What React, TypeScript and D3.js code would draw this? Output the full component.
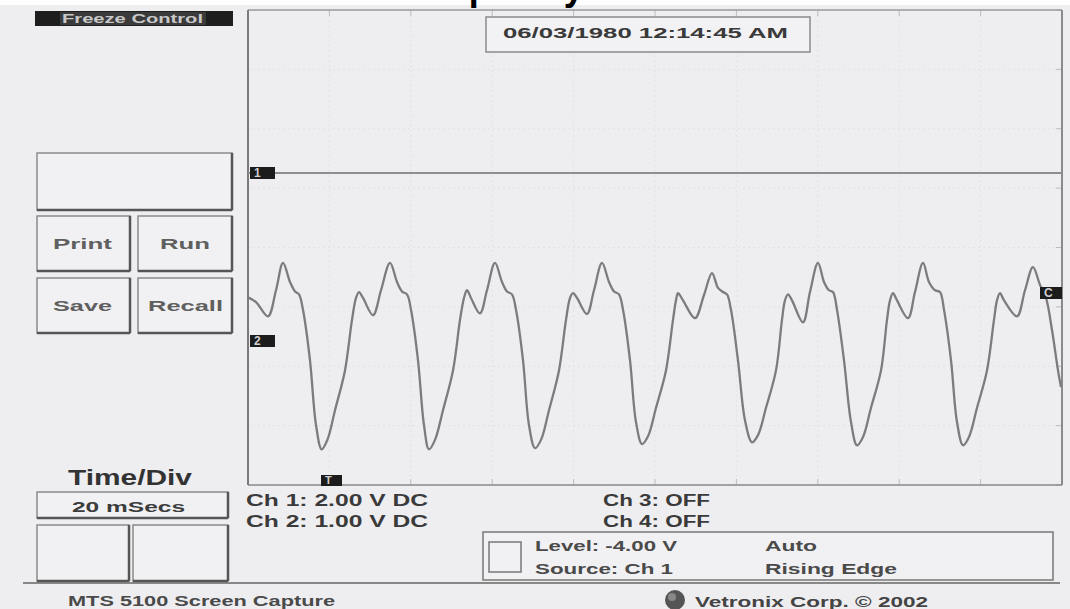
import React from "react";
import * as d3 from "d3";

// ---- Data ----
// Channel 2 trace: time in ms (20 ms/div, 10 divs), voltage in V (1 V/div)
const timeMs = [
  0, 1.97, 4.91, 6.88, 8.6,
  10.32, 11.55, 12.53, 13.51, 15.23, 16.71, 18.1, 19.5, 21.38, 23.83, 25.55, 26.54, 27.27, 28.26, 30.71, 32.68, 34.89,
  36.61, 37.84, 39.07, 40.05, 41.77, 43.24, 44.47, 45.95, 47.91, 50.37, 52.09, 53.07, 53.81, 54.79, 57.0, 58.72, 60.69,
  62.41, 63.64, 64.86, 65.85, 67.57, 69.04, 70.52, 71.99, 73.96, 76.41, 78.13, 79.12, 79.85, 80.84, 83.29, 85.01, 86.98,
  88.7, 89.93, 91.15, 92.14, 93.86, 95.33, 96.81, 98.28, 100.25, 102.7, 104.42, 105.16, 105.65, 106.88, 109.83, 112.04, 114.0,
  115.48, 116.71, 117.69, 118.67, 120.39, 122.11, 123.83, 125.31, 127.27, 129.73, 131.2, 131.94, 132.68, 133.66, 136.36, 138.08, 140.05,
  141.52, 142.75, 143.73, 144.72, 146.44, 148.16, 149.63, 151.11, 153.07, 155.53, 157.0, 157.74, 158.48, 159.46, 162.16, 163.88, 165.85,
  167.32, 168.8, 170.02, 171.01, 172.73, 174.2, 175.68, 177.15, 179.12, 181.57, 183.29, 184.03, 184.77, 185.75, 188.94, 190.91, 192.87,
  194.59, 196.07, 197.54, 199.02, 199.75,
];
const ch2Volts = [
  0.72, 0.64, 0.4, 0.84, 1.3,
  0.98, 0.82, 0.77, 0.51, -0.34, -1.43, -1.84, -1.68, -1.18, -0.51, 0.34, 0.71, 0.81, 0.71, 0.42, 0.84, 1.3,
  0.98, 0.82, 0.77, 0.51, -0.34, -1.43, -1.84, -1.68, -1.18, -0.51, 0.34, 0.71, 0.84, 0.71, 0.45, 0.84, 1.3,
  0.98, 0.82, 0.77, 0.51, -0.34, -1.43, -1.82, -1.68, -1.18, -0.51, 0.34, 0.71, 0.79, 0.71, 0.44, 0.84, 1.3,
  0.98, 0.82, 0.77, 0.51, -0.34, -1.38, -1.75, -1.62, -1.14, -0.51, 0.34, 0.67, 0.79, 0.67, 0.37, 0.76, 1.13,
  0.88, 0.81, 0.77, 0.51, -0.34, -1.35, -1.72, -1.6, -1.14, -0.51, 0.34, 0.67, 0.77, 0.67, 0.3, 0.81, 1.3,
  0.98, 0.84, 0.81, 0.51, -0.34, -1.38, -1.77, -1.63, -1.14, -0.51, 0.34, 0.67, 0.79, 0.67, 0.37, 0.81, 1.3,
  0.98, 0.84, 0.81, 0.51, -0.34, -1.38, -1.77, -1.63, -1.14, -0.51, 0.34, 0.67, 0.79, 0.67, 0.4, 0.84, 1.23,
  0.93, 0.71, 0.17, -0.51, -0.79,
];
// Channel 1 trace: flat at its ground reference
const ch1Time = [0, 200];
const ch1Volts = [0, 0];

const timeGrid = [0, 20, 40, 60, 80, 100, 120, 140, 160, 180, 200];
const divGrid = [0, 1, 2, 3, 4, 5, 6, 7, 8];

const ch1Label = "Ch 1: 2.00 V DC";
const ch2Label = "Ch 2: 1.00 V DC";
const ch3Label = "Ch 3: OFF";
const ch4Label = "Ch 4: OFF";
const timeDivLabel = "20 mSecs";
const dateLabel = "06/03/1980 12:14:45 AM";
const triggerLabels = ["Level: -4.00 V", "Source: Ch 1", "Auto", "Rising Edge"];
const buttonLabels = ["Print", "Run", "Save", "Recall"];

// ---- Layout ----
const W = 1070;
const H = 609;
const PL = 248, PR = 1062, PT = 10, PB = 485;
const CH1_VDIV = 2, CH2_VDIV = 1;
const CH1_GROUND_DIV = 5.255;
const CH2_GROUND_DIV = 2.44;

const FONT = "'Liberation Sans', Arial, sans-serif";

function T(props: { x: number; y: number; w?: number; size: number; fill?: string; anchor?: string; children: React.ReactNode; weight?: string }) {
  const { x, y, w, size, fill = "#3a3a3a", anchor = "start", children, weight = "bold" } = props;
  return (
    <text
      x={x}
      y={y}
      fontFamily={FONT}
      fontWeight={weight}
      fontSize={size}
      fill={fill}
      textAnchor={anchor}
      {...(w ? { textLength: w, lengthAdjust: "spacingAndGlyphs" } : {})}
    >
      {children}
    </text>
  );
}

function Box({ x, y, w, h }: { x: number; y: number; w: number; h: number }) {
  return (
    <g>
      <rect x={x} y={y} width={w} height={h} fill="#f1f1f3" stroke="#8a8a8a" strokeWidth={1.5} />
      <line x1={x + w} y1={y} x2={x + w} y2={y + h} stroke="#555" strokeWidth={2.5} />
      <line x1={x} y1={y + h} x2={x + w} y2={y + h} stroke="#555" strokeWidth={2.5} />
    </g>
  );
}

function Marker({ x, y, w, h, label }: { x: number; y: number; w: number; h: number; label: string }) {
  return (
    <g>
      <rect x={x} y={y} width={w} height={h} fill="#1c1c1c" />
      <text x={x + 4} y={y + h - 2} fontFamily={FONT} fontWeight="bold" fontSize={h} fill="#d0d0d0">
        {label}
      </text>
    </g>
  );
}

export default function App() {
  const x = d3.scaleLinear().domain([0, 200]).range([PL, PR]);
  const yDiv = d3.scaleLinear().domain([0, 8]).range([PB, PT]);
  const y1 = (v: number) => yDiv(CH1_GROUND_DIV + v / CH1_VDIV);
  const y2 = (v: number) => yDiv(CH2_GROUND_DIV + v / CH2_VDIV);

  const ch2Pts: [number, number][] = timeMs.map((t, i) => [t, ch2Volts[i]]);
  const ch1Pts: [number, number][] = ch1Time.map((t, i) => [t, ch1Volts[i]]);

  const line2 = d3
    .line<[number, number]>()
    .x((d) => x(d[0]))
    .y((d) => y2(d[1]))
    .curve(d3.curveCatmullRom.alpha(0.5));
  const line1 = d3
    .line<[number, number]>()
    .x((d) => x(d[0]))
    .y((d) => y1(d[1]));

  return (
    <svg
      width={W}
      height={H}
      viewBox={`0 0 ${W} ${H}`}
      style={{ position: "absolute", left: 0, top: 0, display: "block" }}
    >
      <rect x={0} y={0} width={W} height={H} fill="#ffffff" />
      <rect x={0} y={5} width={W} height={H - 5} fill="#eeeef1" />

      {/* cut-off title at the very top (only descenders visible, as in the reference) */}
      <text x={400} y={-0.5} fontFamily={FONT} fontWeight="bold" fontSize={40} fill="#000" textLength={184} lengthAdjust="spacingAndGlyphs">
        Frequency
      </text>

      {/* left panel */}
      <rect x={35} y={11} width={198} height={15} fill="#1e1e1e" />
      <rect x={60} y={12} width={146} height={13} fill="#3a3a3a" />
      <T x={62} y={23} w={141} size={12} fill="#c8c8c8">Freeze Control</T>

      <Box x={37} y={153} w={195} h={57} />
      <Box x={37} y={216} w={93} h={55} />
      <Box x={138} y={216} w={94} h={55} />
      <Box x={37} y={278} w={93} h={55} />
      <Box x={138} y={278} w={94} h={55} />
      <T x={53} y={249} w={59} size={15} fill="#5f5f5f">{buttonLabels[0]}</T>
      <T x={160} y={249} w={50} size={15} fill="#5f5f5f">{buttonLabels[1]}</T>
      <T x={53} y={311} w={59} size={15} fill="#5f5f5f">{buttonLabels[2]}</T>
      <T x={148} y={311} w={75} size={15} fill="#5f5f5f">{buttonLabels[3]}</T>

      <T x={68} y={485} w={124} size={22} fill="#333">Time/Div</T>
      <Box x={37} y={492} w={191} h={26} />
      <T x={72} y={512} w={113} size={14} fill="#3c3c3c">{timeDivLabel}</T>
      <Box x={37} y={525} w={92} h={56} />
      <Box x={133} y={525} w={95} h={56} />

      {/* plot grid */}
      <g>
        {timeGrid.map((t) => (
          <line key={"v" + t} x1={x(t)} x2={x(t)} y1={PT} y2={PB} stroke="#e2e2e6" strokeWidth={1} strokeDasharray="2,3" />
        ))}
        {divGrid.map((d) => (
          <line key={"h" + d} x1={PL} x2={PR} y1={yDiv(d)} y2={yDiv(d)} stroke="#e2e2e6" strokeWidth={1} strokeDasharray="2,3" />
        ))}
        {timeGrid.map((t) => (
          <line key={"tt" + t} x1={x(t)} x2={x(t)} y1={PT} y2={PT + 6} stroke="#bdbdc0" strokeWidth={1} />
        ))}
        {timeGrid.map((t) => (
          <line key={"tb" + t} x1={x(t)} x2={x(t)} y1={PB - 6} y2={PB} stroke="#bdbdc0" strokeWidth={1} />
        ))}
        {divGrid.map((d) => (
          <line key={"tr" + d} x1={PR - 6} x2={PR} y1={yDiv(d)} y2={yDiv(d)} stroke="#bdbdc0" strokeWidth={1} />
        ))}
      </g>

      {/* plot frame */}
      <line x1={PL} x2={PR} y1={PT} y2={PT} stroke="#9a9a9d" strokeWidth={1.5} />
      <line x1={PL} x2={PR} y1={PB} y2={PB} stroke="#8a8a8d" strokeWidth={1.5} />
      <line x1={PL} x2={PL} y1={PT} y2={PB} stroke="#7a7a7d" strokeWidth={2} />
      <line x1={PR} x2={PR} y1={PT} y2={PB} stroke="#8a8a8d" strokeWidth={2} />

      {/* date */}
      <rect x={486} y={17} width={324} height={35} fill="#f2f2f4" stroke="#8a8a8d" strokeWidth={1.5} />
      <T x={503} y={38} w={285} size={14} fill="#3a3a3a">{dateLabel}</T>

      {/* traces */}
      <path d={line1(ch1Pts) || ""} fill="none" stroke="#8e8e91" strokeWidth={2} />
      <path d={line2(ch2Pts) || ""} fill="none" stroke="#7c7c7e" strokeWidth={2.3} strokeLinejoin="round" />

      {/* channel markers */}
      <Marker x={250} y={167} w={25} h={12} label="1" />
      <Marker x={250} y={335} w={25} h={12} label="2" />
      <Marker x={1040} y={287} w={22} h={12} label="C" />
      <Marker x={321} y={475} w={21} h={11} label="T" />

      {/* channel info */}
      <T x={246} y={506} w={182} size={16}>{ch1Label}</T>
      <T x={246} y={527} w={182} size={16}>{ch2Label}</T>
      <T x={603} y={506} w={107} size={16}>{ch3Label}</T>
      <T x={603} y={527} w={107} size={16}>{ch4Label}</T>

      {/* trigger box */}
      <rect x={483} y={532} width={570} height={48} fill="#f1f1f3" stroke="#777" strokeWidth={1.5} />
      <rect x={489} y={542} width={32} height={30} fill="#f1f1f3" stroke="#777" strokeWidth={1.5} />
      <T x={535} y={551} w={142} size={15} fill="#4a4a4a">{triggerLabels[0]}</T>
      <T x={535} y={574} w={138} size={15} fill="#4a4a4a">{triggerLabels[1]}</T>
      <T x={765} y={551} w={52} size={15} fill="#4a4a4a">{triggerLabels[2]}</T>
      <T x={765} y={574} w={132} size={15} fill="#4a4a4a">{triggerLabels[3]}</T>

      {/* bottom rule & footer */}
      <line x1={23} x2={1060} y1={583} y2={583} stroke="#666" strokeWidth={1.5} />
      <T x={68} y={606} w={267} size={14} fill="#4a4a4a">MTS 5100 Screen Capture</T>
      <circle cx={675} cy={600} r={10} fill="#555" />
      <circle cx={672} cy={597} r={4} fill="#888" />
      <T x={695} y={607} w={233} size={14} fill="#444">Vetronix Corp. © 2002</T>
    </svg>
  );
}
